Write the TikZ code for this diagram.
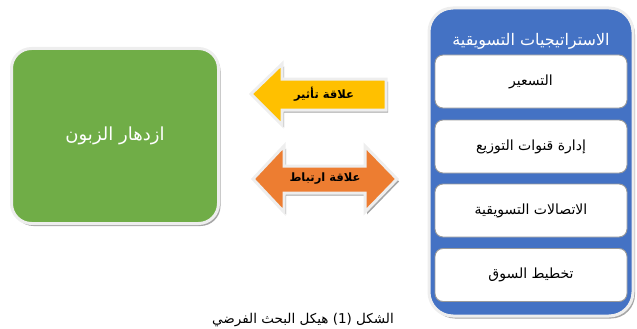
\documentclass[tikz,border=0pt]{standalone}
\usepackage{fontspec}
\usetikzlibrary{shadows}
\newfontfamily\arabicfont[Script=Arabic]{DejaVu Sans}
\TeXXeTstate=1
\definecolor{grn}{HTML}{70AD47}
\definecolor{ylw}{HTML}{FFC000}
\definecolor{org}{HTML}{ED7D31}
\definecolor{blu}{HTML}{4472C4}
\definecolor{edge}{HTML}{EEEEEE}
\definecolor{boxedge}{HTML}{9A9A9A}
\tikzset{
  shd/.style={drop shadow={shadow xshift=2pt, shadow yshift=-2.5pt, fill=black, opacity=0.35}},
  bigpanel/.style={draw=edge, line width=3pt, shd},
  itembox/.style={draw=boxedge, line width=0.9pt, fill=white, rounded corners=8pt,
     minimum width=192pt, minimum height=53pt, font=\arabicfont\fontsize{14}{16}\selectfont},
  arrowshape/.style={draw=edge, line width=3pt, line join=miter, shd},
  lbl/.style={font=\arabicfont\fontsize{11.5}{13}\selectfont\bfseries, text=black}
}
\begin{document}
\begin{tikzpicture}[x=1pt,y=-1pt]
\useasboundingbox (0,0) rectangle (637,329);
% customer box
\node[bigpanel, fill=grn, rounded corners=20pt, minimum width=207pt, minimum height=175pt,
      text=white, font=\arabicfont\fontsize{18}{20}\selectfont] (cust) at (115,136)
      {\beginR ازدهار الزبون\endR};
% strategies panel
\node[bigpanel, fill=blu, rounded corners=24pt, minimum width=204pt, minimum height=308pt] (strat) at (531,162) {};
\node[text=white, font=\arabicfont\fontsize{16}{18}\selectfont] (title) at (531,41) {\beginR الاستراتيجيات التسويقية\endR};
\node[itembox] (b1) at (531,81.5) {\beginR التسعير\endR};
\node[itembox] (b2) at (531,146.5) {\beginR إدارة قنوات التوزيع\endR};
\node[itembox] (b3) at (531,210.5) {\beginR الاتصالات التسويقية\endR};
\node[itembox] (b4) at (531,275) {\beginR تخطيط السوق\endR};
% influence arrow (yellow, pointing left)
\filldraw[arrowshape, fill=ylw] (251,94) -- (282,64) -- (282,79) -- (386,79) -- (386,110) -- (282,110) -- (282,125) -- cycle;
\node[lbl] (infl) at (324,94) {\beginR علاقة تأثير\endR};
% correlation arrow (orange, double)
\filldraw[arrowshape, fill=org] (253,179) -- (284,146) -- (284,166) -- (365,166) -- (365,146) -- (397,179)
   -- (365,212) -- (365,193) -- (284,193) -- (284,212) -- cycle;
\node[lbl] (corr) at (325,179) {\beginR علاقة ارتباط\endR};
% caption
\node[font=\arabicfont\fontsize{13.5}{15}\selectfont] (cap) at (303,320) {\beginR الشكل (1) هيكل البحث الفرضي\endR};
\end{tikzpicture}
\end{document}
